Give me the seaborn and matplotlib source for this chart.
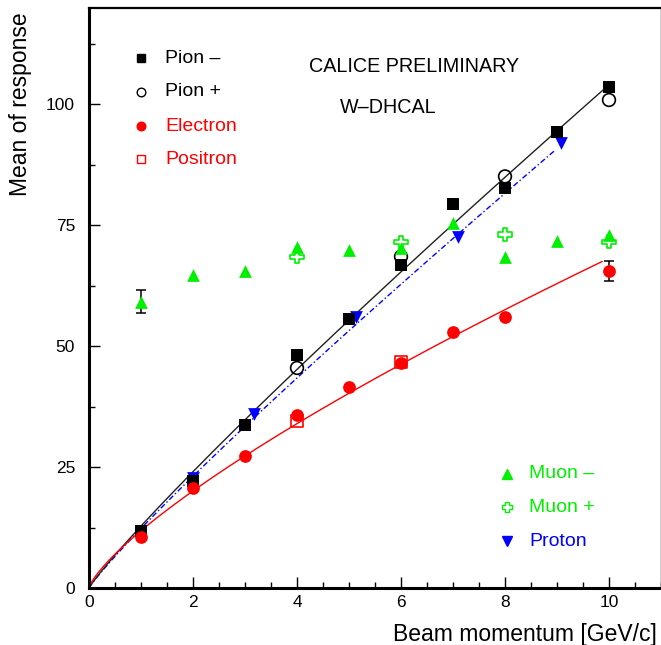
import numpy as np
import matplotlib
matplotlib.use("Agg")
import matplotlib.pyplot as plt
from matplotlib.ticker import MultipleLocator
import seaborn as sns

# ---------------- data ----------------
pion_minus_x = [1, 2, 3, 4, 5, 6, 7, 8, 9, 10]
pion_minus_y = [11.7, 22.2, 33.7, 48.1, 55.7, 66.8, 79.3, 82.8, 94.2, 103.6]

pion_plus_x = [4, 6, 8, 10]
pion_plus_y = [45.5, 68.5, 85.1, 100.9]

electron_x = [1, 2, 3, 4, 5, 6, 7, 8, 10]
electron_y = [10.6, 20.7, 27.2, 35.8, 41.5, 46.6, 52.9, 56.1, 65.5]
electron_err = [0, 0, 0, 0, 0, 0, 0, 0, 2.05]

positron_x = [4, 6]
positron_y = [34.5, 46.7]

muon_minus_x = [1, 2, 3, 4, 5, 6, 7, 8, 9, 10]
muon_minus_y = [59.2, 64.8, 65.5, 70.6, 69.8, 70.2, 75.4, 68.5, 71.7, 73.0]
muon_minus_err = [2.4, 0, 0, 0, 0, 0, 0, 0, 0, 0]

muon_plus_x = [4, 6, 8, 10]
muon_plus_y = [68.5, 71.5, 73.1, 71.6]

proton_x = [2.0, 3.18, 5.13, 7.1, 9.08]
proton_y = [22.8, 36.0, 56.0, 72.5, 92.1]

# power-law fits  y = a * x**b  (a, b, x_max)
pion_fit = (12.8, 0.91, 9.89)
electron_fit = (11.85, 0.76, 9.87)
proton_fit = (12.3, 0.91, 8.97)

x_ticks = [0, 2, 4, 6, 8, 10]
y_ticks = [0, 25, 50, 75, 100]

legend_top = ["Pion \u2013", "Pion +", "Electron", "Positron"]
legend_bottom = ["Muon \u2013", "Muon +", "Proton"]

# ---------------- style ----------------
sns.set_theme(style="white")
plt.rcParams["font.family"] = ["Liberation Sans", "DejaVu Sans"]

W, H = 661, 645
fig = plt.figure(figsize=(W / 100, H / 100), dpi=100)
ax = fig.add_axes([89 / W, 57 / H, 572 / W, 580.4 / H])

BLACK, RED, GREEN, BLUE = "#000000", "#ff0000", "#00f000", "#0000ff"
MS = 84

# ---------------- fit lines ----------------
def fit_curve(p):
    a, b, xmax = p
    xs = np.linspace(0, xmax, 200)
    return xs, a * xs ** b

xs, ys = fit_curve(proton_fit)
sns.lineplot(x=xs, y=ys, ax=ax, color=BLUE, lw=1.0, sort=False, estimator=None,
             dashes=False, linestyle=(0, (4, 1.8, 1, 1.8)), zorder=2)
xs, ys = fit_curve(pion_fit)
sns.lineplot(x=xs, y=ys, ax=ax, color="#202020", lw=1.0, sort=False, estimator=None, zorder=2)
xs, ys = fit_curve(electron_fit)
sns.lineplot(x=xs, y=ys, ax=ax, color=RED, lw=1.0, sort=False, estimator=None, zorder=2)

# ---------------- error bars ----------------
for xv, yv, ev in [(muon_minus_x, muon_minus_y, muon_minus_err),
                   (electron_x, electron_y, electron_err)]:
    xe = [a for a, e in zip(xv, ev) if e > 0]
    ye = [a for a, e in zip(yv, ev) if e > 0]
    ee = [e for e in ev if e > 0]
    ax.errorbar(xe, ye, yerr=ee, fmt="none", ecolor="black", elinewidth=1.1,
                capsize=3.3, capthick=1.1, zorder=3)

# ---------------- markers ----------------
sns.scatterplot(x=proton_x, y=proton_y, ax=ax, marker="v", s=MS, color=BLUE,
                edgecolor=BLUE, linewidth=0, zorder=4)
sns.scatterplot(x=pion_minus_x, y=pion_minus_y, ax=ax, marker="s", s=MS, color=BLACK,
                edgecolor=BLACK, linewidth=0, zorder=5)
sns.scatterplot(x=pion_plus_x, y=pion_plus_y, ax=ax, marker="o", s=MS, facecolors="none",
                edgecolor=BLACK, linewidth=1.2, zorder=6)
sns.scatterplot(x=positron_x, y=positron_y, ax=ax, marker="s", s=MS * 0.9, facecolors="none",
                edgecolor=RED, linewidth=1.2, zorder=6)
sns.scatterplot(x=electron_x, y=electron_y, ax=ax, marker="o", s=MS, color=RED,
                edgecolor=RED, linewidth=0, zorder=7)
sns.scatterplot(x=muon_minus_x, y=muon_minus_y, ax=ax, marker="^", s=MS, color=GREEN,
                edgecolor=GREEN, linewidth=0, zorder=7)
sns.scatterplot(x=muon_plus_x, y=muon_plus_y, ax=ax, marker="P", s=MS * 1.05, facecolors="none",
                edgecolor=GREEN, linewidth=1.2, zorder=8)

# ---------------- axes ----------------
ax.set_xlim(0, 11)
ax.set_ylim(0, 120)
ax.set_xticks(x_ticks)
ax.set_yticks(y_ticks)
ax.xaxis.set_minor_locator(MultipleLocator(0.5))
ax.yaxis.set_minor_locator(MultipleLocator(12.5))
ax.tick_params(which="both", direction="in", top=False, right=False,
               left=True, bottom=True, colors="black", width=1.0)
ax.tick_params(which="major", length=8, labelsize=12.5)
ax.tick_params(which="minor", length=4)
ax.tick_params(axis="x", which="major", pad=5)
ax.tick_params(axis="y", which="major", pad=10)
ax.set_xlabel("")
ax.set_ylabel("")
ax.grid(False)
for side, lw in [("left", 2.2), ("bottom", 2.2), ("top", 1.6), ("right", 1.0)]:
    ax.spines[side].set_visible(True)
    ax.spines[side].set_color("black")
    ax.spines[side].set_linewidth(lw)

def px2ax(px, py):
    return (px - 89) / 572, (588 - py) / 580.4

# ---------------- manual legends ----------------
top_style = [dict(marker="s", color=BLACK, mfc=BLACK, ms=5.8),
             dict(marker="o", color=BLACK, mfc="none", ms=6.2),
             dict(marker="o", color=RED, mfc=RED, ms=6.2),
             dict(marker="s", color=RED, mfc="none", ms=5.8)]
top_rows = [58, 92, 126, 159]
top_colors = [BLACK, BLACK, RED, RED]
for lab, st, py, c in zip(legend_top, top_style, top_rows, top_colors):
    mx, my = px2ax(141, py)
    ax.plot([mx], [my], transform=ax.transAxes, ls="none", mew=1.0, clip_on=False, **st)
    tx, ty = px2ax(165, py)
    ax.text(tx, ty, lab, transform=ax.transAxes, ha="left", va="center",
            fontsize=14, color=c)

bot_style = [dict(marker="^", color=GREEN, mfc=GREEN, ms=6.5),
             dict(marker="P", color=GREEN, mfc="none", ms=6.8),
             dict(marker="v", color=BLUE, mfc=BLUE, ms=6.5)]
bot_rows = [474, 507, 541]
bot_colors = [GREEN, GREEN, BLUE]
for lab, st, py, c in zip(legend_bottom, bot_style, bot_rows, bot_colors):
    mx, my = px2ax(507, py)
    ax.plot([mx], [my], transform=ax.transAxes, ls="none", mew=1.0, clip_on=False, **st)
    tx, ty = px2ax(529, py)
    ax.text(tx, ty, lab, transform=ax.transAxes, ha="left", va="center",
            fontsize=14, color=c)

tx, ty = px2ax(309, 66)
ax.text(tx, ty, "CALICE PRELIMINARY", transform=ax.transAxes, ha="left", va="center",
        fontsize=14.2, color="black")
tx, ty = px2ax(340, 107)
ax.text(tx, ty, "W\u2013DHCAL", transform=ax.transAxes, ha="left", va="center",
        fontsize=14.2, color="black")

# ---------------- axis titles ----------------
fig.text(21 / W, 1 - 12 / H, "Mean of response", rotation=90, ha="center", va="top",
         fontsize=16.5, color="black")
fig.text(657 / W, 1 - 641 / H, "Beam momentum [GeV/c]", ha="right", va="baseline",
         fontsize=16.5, color="black")

fig.savefig("out.png", dpi=100)
